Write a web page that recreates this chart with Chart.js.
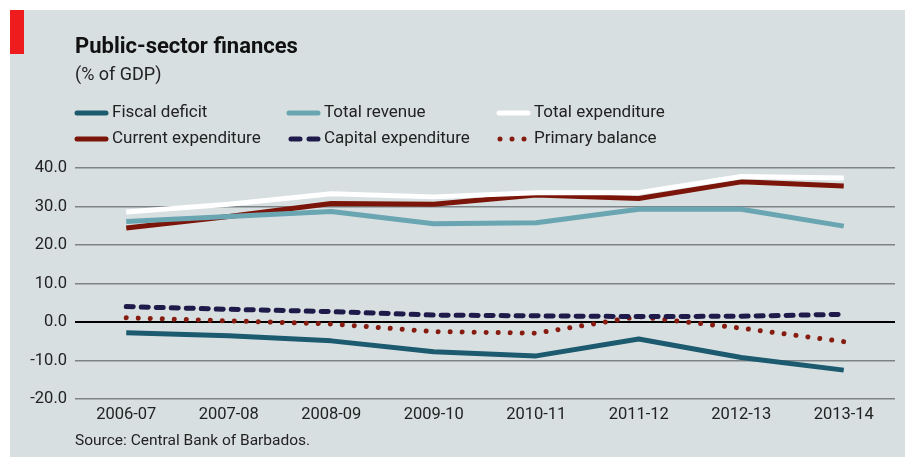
<!DOCTYPE html>
<html>
<head>
<meta charset="utf-8">
<script src="https://cdn.jsdelivr.net/npm/chart.js@4/dist/chart.umd.min.js"></script>
<style>
  html, body { margin: 0; padding: 0; background: #fff; }
  #wrap { width: 905px; height: 457px; position: relative; }
</style>
</head>
<body>
<div id="wrap"><canvas id="chart" width="905" height="457"></canvas></div>
<script>
var years = ['2006-07', '2007-08', '2008-09', '2009-10', '2010-11', '2011-12', '2012-13', '2013-14'];
var fiscalDeficit = [-2.8, -3.6, -4.9, -7.7, -8.8, -4.4, -9.2, -12.5];
var totalRevenue = [26.1, 27.4, 28.7, 25.5, 25.8, 29.3, 29.3, 24.9];
var totalExpenditure = [28.6, 30.6, 33.3, 32.5, 33.6, 33.6, 37.8, 37.4];
var currentExpenditure = [24.4, 27.4, 30.8, 30.6, 33.0, 32.1, 36.4, 35.3];
var capitalExpenditure = [4.0, 3.3, 2.7, 1.8, 1.6, 1.4, 1.5, 2.0];
var primaryBalance = [1.1, 0.3, -0.5, -2.5, -2.9, 1.4, -1.6, -5.1];
var yTicks = [-20, -10, 0, 10, 20, 30, 40];

var FONT = 'Roboto, "Liberation Sans", sans-serif';
var BG = '#d8dfe1';

var seriesStyle = [
  { label: 'Fiscal deficit', data: fiscalDeficit, color: '#1b5a6f', dash: [] },
  { label: 'Total revenue', data: totalRevenue, color: '#6aa5b2', dash: [] },
  { label: 'Total expenditure', data: totalExpenditure, color: '#ffffff', dash: [] },
  { label: 'Current expenditure', data: currentExpenditure, color: '#7b1509', dash: [] },
  { label: 'Capital expenditure', data: capitalExpenditure, color: '#1e1b4b', dash: [7, 8] },
  { label: 'Primary balance', data: primaryBalance, color: '#861c10', dash: [0.01, 12] }
];

// draw order: white behind red, dashed/dotted on top
var drawOrder = [2, 1, 3, 0, 4, 5];

var datasets = seriesStyle.map(function (s, i) {
  return {
    label: s.label,
    data: s.data,
    borderColor: s.color,
    borderWidth: 5,
    borderDash: s.dash,
    borderCapStyle: s.dash.length ? 'round' : 'butt',
    borderJoinStyle: 'round',
    pointRadius: 0,
    tension: 0,
    fill: false,
    order: drawOrder.indexOf(i)
  };
});

var frame = {
  id: 'frame',
  beforeDraw: function (chart) {
    var ctx = chart.ctx;
    ctx.save();
    ctx.fillStyle = BG;
    ctx.fillRect(10, 10, 895, 447);
    ctx.fillStyle = '#ee1c1c';
    ctx.fillRect(10, 10, 14, 44);
    ctx.restore();
  },
  afterDraw: function (chart) {
    var ctx = chart.ctx;
    ctx.save();
    ctx.textBaseline = 'middle';
    ctx.fillStyle = '#111';
    ctx.font = 'bold 22px ' + FONT;
    ctx.fillText('Public-sector finances', 75, 47);
    ctx.font = '18px ' + FONT;
    ctx.fillStyle = '#222';
    ctx.fillText('(% of GDP)', 75, 75);

    var cols = [75, 287, 497];
    var rows = [113, 139];
    seriesStyle.forEach(function (s, i) {
      var x = cols[i % 3], y = rows[Math.floor(i / 3)];
      ctx.strokeStyle = s.color;
      ctx.lineWidth = 5;
      ctx.lineCap = 'round';
      if (s.dash.length && s.dash[0] < 1) {
        ctx.setLineDash([0.01, 12]);
        ctx.beginPath(); ctx.moveTo(x + 3, y); ctx.lineTo(x + 30, y); ctx.stroke();
      } else if (s.dash.length) {
        ctx.setLineDash([9, 9]);
        ctx.beginPath(); ctx.moveTo(x + 4, y); ctx.lineTo(x + 31, y); ctx.stroke();
      } else {
        ctx.setLineDash([]);
        ctx.beginPath(); ctx.moveTo(x + 2, y); ctx.lineTo(x + 31, y); ctx.stroke();
      }
      ctx.setLineDash([]);
      ctx.fillStyle = '#222';
      ctx.font = '17px ' + FONT;
      ctx.fillText(s.label, x + 37, y);
    });

    ctx.font = '15.5px ' + FONT;
    ctx.fillStyle = '#222';
    ctx.fillText('Source: Central Bank of Barbados.', 75, 441);
    ctx.restore();
  }
};

new Chart(document.getElementById('chart'), {
  type: 'line',
  data: { labels: years, datasets: datasets },
  options: {
    responsive: false,
    animation: false,
    layout: { padding: { top: 168, right: 10, left: 0, bottom: 0 } },
    plugins: { legend: { display: false }, tooltip: { enabled: false } },
    scales: {
      x: {
        offset: true,
        grid: { display: false, drawTicks: false },
        border: { display: false },
        ticks: { padding: 6, color: '#222', font: { family: FONT, size: 16.5 } },
        afterFit: function (s) { s.height = 58; }
      },
      y: {
        min: -20,
        max: 40,
        afterBuildTicks: function (s) { s.ticks = yTicks.map(function (v) { return { value: v }; }); },
        grid: {
          drawTicks: false,
          color: function (c) { return c.tick.value === 0 ? '#000' : '#7d8386'; },
          lineWidth: function (c) { return c.tick.value === 0 ? 2 : 1.5; }
        },
        border: { display: false },
        ticks: {
          padding: 8,
          color: '#222',
          font: { family: FONT, size: 16.5 },
          callback: function (v) { return Number(v).toFixed(1); }
        },
        afterFit: function (s) { s.width = 75; }
      }
    }
  },
  plugins: [frame]
});
</script>
</body>
</html>
